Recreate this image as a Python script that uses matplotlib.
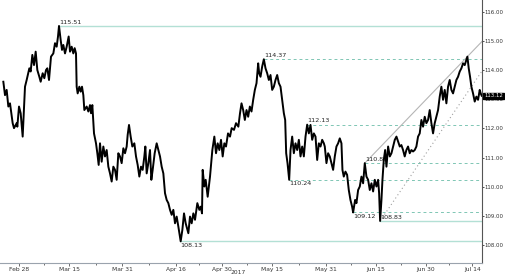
import numpy as np
import matplotlib.pyplot as plt

# price trace, x = days since 2017-02-28
days = [-4.7, -4.2, -3.7, -3.2, -2.7, -1.9, -1.5, -0.7, -0.5, 0.0, 0.5, 1.1, 1.8, 2.3, 3.1, 3.5,
        4.0, 4.5, 5.0, 5.5, 6.1, 6.5, 7.1, 7.6, 8.1, 8.5, 9.0, 9.6, 10.3, 10.8, 11.3, 11.7, 12.0,
        12.5, 12.9, 13.3, 13.8, 14.3, 14.9, 15.3, 15.8, 16.3, 16.7, 17.1, 17.3, 17.6, 18.1, 18.5,
        18.9, 19.3, 19.6, 20.3, 20.8, 21.3, 21.6, 22.0, 22.5, 23.1, 23.5, 23.9, 24.3, 24.8, 25.3,
        25.8, 26.3, 26.8, 27.3, 27.8, 28.3, 28.8, 29.3, 29.8, 30.3, 30.8, 31.3, 31.8, 32.3, 32.6,
        33.0, 33.5, 34.0, 34.6, 35.1, 35.6, 36.1, 36.6, 37.1, 37.6, 37.9, 38.3, 38.8, 39.3, 39.7,
        40.1, 40.7, 41.3, 41.8, 42.3, 42.8, 43.3, 43.8, 44.3, 44.8, 45.3, 45.8, 46.3, 46.8, 47.3,
        47.8, 48.5, 49.0, 49.5, 50.0, 50.8, 51.3, 51.8, 52.3, 52.8, 53.5, 54.1, 54.5, 54.9, 55.1,
        55.6, 56.0, 56.6, 57.3, 58.0, 58.6, 59.1, 59.6, 60.1, 60.6, 61.1, 61.6, 62.1, 62.7, 63.3,
        63.8, 64.5, 65.1, 65.8, 66.3, 66.75, 67.25, 67.75, 68.25, 68.75, 69.25, 69.75, 70.25,
        70.75, 71.25, 71.75, 72.05, 72.45, 72.95, 73.45, 73.95, 74.45, 74.95, 75.45, 75.95, 76.45,
        76.95, 77.45, 77.95, 78.45, 78.95, 79.45, 79.85, 80.15, 80.55, 81.05, 81.45, 81.95, 82.45,
        82.95, 83.45, 83.95, 84.45, 84.95, 85.45, 85.95, 86.45, 86.95, 87.45, 87.95, 88.45, 88.95,
        89.45, 89.95, 90.45, 90.95, 91.45, 91.73, 92.23, 92.73, 93.23, 93.73, 94.23, 94.73, 95.23,
        95.73, 96.23, 96.73, 97.03, 97.43, 97.93, 98.43, 98.93, 99.43, 99.93, 100.23, 100.83,
        101.23, 101.73, 102.23, 102.73, 103.23, 103.73, 104.23, 104.73, 105.23, 105.73, 106.23,
        106.73, 107.23, 107.73, 108.03, 108.33, 108.73, 109.03, 109.43, 109.83, 110.23, 110.73,
        111.23, 111.73, 112.23, 112.73, 113.23, 113.73, 114.23, 114.71, 115.21, 115.71, 116.21,
        116.71, 117.21, 117.71, 118.21, 118.71, 119.21, 119.71, 120.21, 120.71, 121.21, 121.71,
        122.21, 122.71, 123.21, 123.71, 124.21, 124.71, 125.21, 125.71, 126.21, 126.71, 127.21,
        127.71, 128.21, 128.71, 129.21, 129.71, 130.21, 130.71, 131.21, 131.71, 132.21, 132.71,
        133.21, 133.71, 134.21, 134.51, 134.91, 135.31, 135.71, 136.21, 136.71, 137.21, 137.71,
        138.21, 138.51, 138.81]
price = [113.60, 113.14, 113.32, 112.75, 112.86, 112.18, 112.01, 112.18, 112.06, 112.75, 112.52,
         111.72, 113.43, 113.66, 114.06, 113.95, 114.52, 114.17, 114.63, 114.00, 113.77, 113.60,
         113.89, 113.72, 114.00, 114.06, 113.66, 114.46, 114.57, 114.92, 114.80, 115.15, 115.51,
         115.03, 114.69, 114.86, 114.57, 114.80, 115.15, 114.63, 114.80, 114.57, 114.75, 114.57,
         113.43, 113.20, 113.43, 113.26, 113.43, 113.14, 112.63, 112.75, 112.58, 112.80, 112.52,
         112.80, 111.83, 111.49, 111.15, 110.75, 111.49, 110.86, 111.38, 111.04, 111.26, 110.69,
         110.46, 110.18, 110.69, 110.58, 110.24, 111.15, 111.04, 110.81, 111.32, 111.15, 111.38,
         111.78, 112.12, 111.72, 111.38, 111.49, 111.04, 110.75, 110.35, 110.69, 110.58, 111.04,
         111.38, 110.46, 110.81, 111.26, 110.24, 110.58, 111.15, 111.49, 111.26, 111.04, 110.69,
         110.46, 109.78, 109.55, 109.44, 109.21, 109.04, 109.21, 108.75, 108.98, 108.64, 108.13,
         108.52, 109.09, 108.75, 108.41, 108.98, 108.75, 109.09, 108.87, 109.44, 109.21, 109.32,
         109.09, 110.58, 110.01, 110.24, 109.66, 110.35, 111.26, 111.72, 111.15, 111.49, 111.26,
         111.61, 111.04, 111.49, 111.38, 111.83, 111.72, 112.01, 111.95, 112.18, 112.06, 112.52,
         112.86, 112.63, 112.29, 112.63, 112.40, 112.75, 112.58, 112.98, 113.32, 113.55, 114.23,
         113.89, 113.77, 114.12, 114.37, 114.06, 113.89, 113.66, 113.83, 113.32, 113.43, 113.66,
         113.83, 113.55, 113.43, 112.98, 112.52, 112.29, 111.15, 110.81, 110.24, 111.26, 111.72,
         111.15, 111.49, 111.26, 111.61, 111.04, 111.38, 111.04, 111.72, 112.13, 111.83, 112.12,
         111.61, 111.83, 111.72, 110.92, 111.49, 111.38, 111.61, 111.49, 111.38, 110.81, 111.15,
         111.04, 110.81, 110.58, 111.04, 111.38, 111.49, 111.66, 111.49, 110.58, 110.35, 110.52,
         110.41, 109.89, 109.55, 109.32, 109.12, 109.55, 109.44, 109.89, 110.01, 110.35, 110.12,
         110.81, 110.35, 110.24, 109.89, 110.12, 109.84, 110.24, 110.01, 110.24, 109.78, 108.83,
         109.55, 110.24, 110.92, 111.26, 110.69, 111.38, 111.04, 111.15, 111.38, 111.61, 111.72,
         111.55, 111.38, 111.43, 111.26, 111.04, 111.26, 111.38, 111.15, 111.26, 111.21, 111.26,
         111.38, 111.72, 111.83, 112.29, 112.06, 112.40, 112.18, 112.29, 112.63, 112.18, 111.83,
         112.18, 112.40, 112.63, 113.09, 113.43, 112.98, 113.32, 112.86, 113.43, 113.66, 113.32,
         113.20, 113.43, 113.66, 113.77, 113.95, 114.06, 114.23, 114.17, 114.35, 114.46, 114.06,
         113.77, 113.43, 113.20, 112.92, 113.09, 112.98, 113.32, 113.20, 113.12]

# marked levels: value, day where it starts, line kind, label side
levels = [115.51, 114.37, 112.13, 110.24, 110.81, 109.12, 108.83, 108.13]
level_days = [12.0, 73.45, 86.45, 81.05, 103.73, 100.23, 108.33, 48.5]
level_solid = [True, False, False, False, False, False, True, True]
level_above = [True, True, True, False, True, False, True, False]

# channel lines
upper_x = [103.73, 134.51]
upper_y = [110.81, 114.46]
lower_x = [108.33, 138.8]
lower_y = [108.83, 113.95]

tick_days = [0, 15, 31, 47, 61, 76, 92, 107, 122, 136]
tick_labels = ['Feb 28', 'Mar 15', 'Mar 31', 'Apr 16', 'Apr 30', 'May 15', 'May 31',
               'Jun 15', 'Jun 30', 'Jul 14']
y_ticks = [108, 109, 110, 111, 112, 113, 114, 115, 116]
last_price = 113.12

fig = plt.figure(figsize=(5.05, 2.78), dpi=100)
ax = fig.add_axes([0.0, 0.054, 0.9545, 0.946])
x0, x1 = -5.7, 138.9
ax.set_xlim(x0, x1)
ax.set_ylim(107.39, 116.40)

for lv, d, solid, above in zip(levels, level_days, level_solid, level_above):
    if solid:
        ax.plot([d, x1], [lv, lv], color='#b3e0d5', lw=1.0, zorder=1)
    else:
        ax.plot([d, x1], [lv, lv], color='#7fc6b4', lw=0.7, ls=(0, (3, 3)), zorder=1)
    ax.annotate(f'{lv:.2f}', (d, lv), xytext=(0, 1 if above else -1),
                textcoords='offset points', fontsize=4.6, color='#222222',
                ha='left', va='bottom' if above else 'top')

# upper channel line extended to the right edge
slope_u = (upper_y[1] - upper_y[0]) / (upper_x[1] - upper_x[0])
ax.plot([upper_x[0], x1], [upper_y[0], upper_y[0] + slope_u * (x1 - upper_x[0])],
        color='#b5b5b5', lw=0.8, zorder=1)
ax.plot(lower_x, lower_y, color='#a0a0a0', lw=0.8, ls=(0, (1, 2.5)), zorder=1)

ax.plot(days, price, color='black', lw=1.4, zorder=3)

# axes styling
ax.spines['left'].set_visible(False)
ax.spines['top'].set_visible(False)
ax.spines['right'].set_color('#555555')
ax.spines['right'].set_linewidth(0.8)
ax.spines['bottom'].set_color('#9aa3ad')
ax.spines['bottom'].set_linewidth(0.8)
ax.yaxis.tick_right()
ax.set_yticks(y_ticks)
ax.set_yticklabels([f'{v:.2f}' for v in y_ticks])
ax.tick_params(axis='y', direction='out', length=1.5, width=0.6, pad=0.5,
               labelsize=3.9, colors='#333333')
ax.set_xticks(tick_days)
ax.set_xticklabels(tick_labels)
mids = [(a + b) / 2 for a, b in zip(tick_days[:-1], tick_days[1:])]
ax.set_xticks(mids, minor=True)
ax.tick_params(axis='x', which='both', direction='out', length=2, width=0.5, pad=1,
               labelsize=4.3, colors='#333333')
ax.tick_params(axis='x', which='minor', length=1.5)
ax.patch.set_alpha(0)

fig.text(0.471, 0.01, '2017', fontsize=4.3, color='#333333', ha='center', va='bottom')

ax.annotate(f'{last_price:.2f}', xy=(1.0, last_price), xycoords=('axes fraction', 'data'),
            xytext=(1.5, 0), textcoords='offset points', fontsize=3.9, color='white',
            ha='left', va='center',
            bbox=dict(boxstyle='square,pad=0.12', fc='black', ec='black'))

fig.savefig('out.png', dpi=100)
